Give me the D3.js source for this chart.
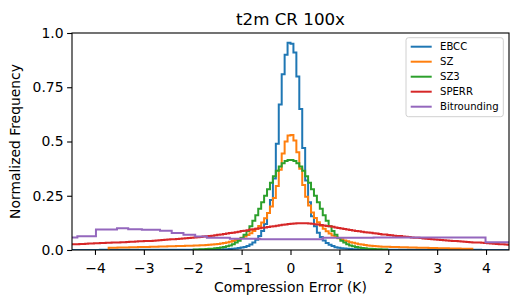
<!DOCTYPE html>
<html>
<head>
<meta charset="utf-8">
<script src="https://cdn.jsdelivr.net/npm/d3@7"></script>
<style>
  body { margin: 0; background: #fff; }
  svg { font-family: "DejaVu Sans", sans-serif; }
</style>
</head>
<body>
<div id="chart"></div>
<script>
// histogram bins, all uniform series use the same bin width
var binWidth = 0.06;

var ebccLo = -4.5;
var ebccVals = [
  .0005,.0005,.0005,.0005,.0005,.0005,.0005,.0005,.0005,.0005,
  .0006,.0006,.0006,.0006,.0006,.0006,.0006,.0006,.0006,.0006,
  .0008,.0008,.0008,.0008,.0008,.0008,.0008,.0008,.0008,.0008,.0008,
  .001,.001,.001,.001,.001,.001,.001,.001,.001,.001,.001,
  .001,.0011,.0012,.0013,.0014,.0016,.0018,.002,.0023,.0027,.0032,.0038,.0045,.0055,.007,.009,
  .011,.014,.019,.025,.034,.047,.064,.088,.12,.17,.23,.33,.49,.67,.81,.90,.955,
  .95,.91,.80,.65,.47,.32,.22,.155,.11,.08,.06,.044,.032,.024,.018,.013,.01,
  .0085,.0067,.0053,.0043,.0036,.003,.0026,.0022,.002,.0018,.0016,.0014,.0013,.0012,.0011,.001,
  .001,.001,.001,.001,.001,.001,.001,.001,.001,.001,.001,
  .0008,.0008,.0008,.0008,.0008,.0008,.0008,.0008,.0008,.0008,.0008,
  .0006,.0006,.0006,.0006,.0006,.0006,.0006,.0006,.0006,.0006,
  .0005,.0005,.0005,.0005,.0005,.0005,.0005,.0005,.0005,.0005
];

var szLo = -3.72;
var szVals = [
  .010,.0103,.0106,.011,.0113,.0116,.012,.0123,.0126,.013,.0133,.0136,.014,.0143,.0146,
  .015,.0154,.0158,.0162,.0166,.017,.0174,.0178,.0182,.0186,.019,.0194,.0198,.02,
  .0205,.021,.0215,.022,.023,.024,.025,.026,.028,.030,.032,.035,.038,.042,.046,.051,.056,
  .062,.069,.077,.087,.098,.111,.127,.146,.17,.20,.24,.295,.37,.445,.50,.528,
  .53,.505,.45,.375,.30,.245,.205,.173,.148,.128,.112,.098,.086,.076,.067,.06,.054,
  .049,.044,.04,.036,.033,.03,.027,.025,.023,.021,.0195,.018,.017,.016,.0155,.015,
  .0146,.0142,.0138,.0134,.013,.0126,.0122,.0118,.0114,.011,.0107,.0104,.0101,.0098,.0095,
  .0092,.0089,.0086,.0083,.008,.0077,.0074,.0071,.0068,.0065,.0062,.006,.0058,.0056
];

var sz3Lo = -1.98;
var sz3Vals = [
  .0022,.0026,.0031,.0037,.0044,.0052,.0062,.0075,.009,.011,.0135,.017,.021,.027,.034,.043,.055,
  .07,.088,.11,.135,.16,.19,.22,.25,.28,.31,.34,.365,.385,.40,.41,.415,
  .415,.41,.40,.385,.365,.34,.31,.28,.25,.22,.19,.16,.135,.11,.088,.07,.055,
  .043,.034,.027,.021,.017,.0135,.011,.009,.0075,.0062,.0052,.0044,.0037,.0031,.0026,.0022
];

var sperrLo = -4.5;
var sperrVals = [
  .026,.027,.027,.028,.028,.029,.030,.030,
  .031,.031,.032,.032,.033,.033,.034,.035,.035,
  .036,.036,.037,.038,.038,.039,.040,.040,
  .041,.042,.042,.043,.044,.045,.046,.047,.048,
  .049,.050,.051,.052,.053,.054,.055,.056,
  .058,.059,.060,.062,.063,.065,.066,.068,
  .070,.072,.074,.076,.078,.080,.082,.084,.087,
  .089,.091,.094,.096,.098,.100,.102,.104,
  .106,.108,.110,.112,.114,.116,.118,.120,
  .121,.122,.123,.123,.123,.123,.122,.121,
  .119,.117,.115,.113,.111,.109,.107,.104,.101,
  .099,.097,.094,.092,.090,.088,.086,.084,
  .082,.081,.079,.077,.076,.074,.072,.071,.069,
  .068,.066,.065,.064,.062,.061,.060,.058,
  .057,.056,.055,.053,.052,.051,.050,.048,
  .047,.046,.045,.044,.043,.042,.041,.040,.039,
  .038,.037,.036,.035,.035,.034,.033,.032,
  .031,.030,.029,.028,.027,.026,.025,.024
];

// bitrounding has uneven bins
var bitEdges = [-4.5, -4.36, -3.98, -3.55, -3.32, -3.04, -2.67, -2.43, -2.19, -1.95, -1.71, -1.24, -0.62, 0.66, 1.7, 3.99, 4.5];
var bitVals = [0.058, 0.063, 0.095, 0.100, 0.096, 0.093, 0.089, 0.078, 0.070, 0.062, 0.057, 0.052, 0.050, 0.056, 0.058, 0.036];

var names = ["EBCC", "SZ", "SZ3", "SPERR", "Bitrounding"];
var colors = ["#1f77b4", "#ff7f0e", "#2ca02c", "#d62728", "#9467bd"];

var xTicks = [-4, -3, -2, -1, 0, 1, 2, 3, 4];
var yTicks = [0, 0.25, 0.5, 0.75, 1.0];
var yTickLabels = ["0.0", "0.25", "0.5", "0.75", "1.0"];

function uniformEdges(lo, n) {
  var e = [];
  for (var i = 0; i <= n; i++) e.push(lo + i * binWidth);
  return e;
}

var series = [
  {edges: uniformEdges(ebccLo, ebccVals.length), vals: ebccVals},
  {edges: uniformEdges(szLo, szVals.length), vals: szVals},
  {edges: uniformEdges(sz3Lo, sz3Vals.length), vals: sz3Vals},
  {edges: uniformEdges(sperrLo, sperrVals.length), vals: sperrVals},
  {edges: bitEdges, vals: bitVals}
];

var W = 519, H = 306;
var margin = {top: 33, right: 10, bottom: 56, left: 72};

var svg = d3.select("#chart").append("svg")
  .attr("width", W)
  .attr("height", H);

var x = d3.scaleLinear().domain([-4.47, 4.47]).range([margin.left, W - margin.right]);
var y = d3.scaleLinear().domain([0, 1]).range([H - margin.bottom, margin.top]);

svg.append("defs").append("clipPath").attr("id", "plotclip")
  .append("rect")
  .attr("x", margin.left).attr("y", margin.top)
  .attr("width", x.range()[1] - x.range()[0])
  .attr("height", y.range()[0] - y.range()[1]);

// step outline like histtype='step'
function stepPoints(s) {
  var pts = [[s.edges[0], 0]];
  s.vals.forEach(function(v, i) {
    pts.push([s.edges[i], v]);
    pts.push([s.edges[i + 1], v]);
  });
  pts.push([s.edges[s.edges.length - 1], 0]);
  return pts;
}

var line = d3.line()
  .x(function(d) { return x(d[0]); })
  .y(function(d) { return y(d[1]); });

var plot = svg.append("g").attr("clip-path", "url(#plotclip)");
plot.selectAll(".hist")
  .data(series)
  .enter()
  .append("path")
  .attr("class", "hist")
  .attr("d", function(d) { return line(stepPoints(d)); })
  .attr("fill", "none")
  .attr("stroke", function(d, i) { return colors[i]; })
  .attr("stroke-width", 2)
  .attr("stroke-linejoin", "miter");

// axes
var xAxis = svg.append("g")
  .attr("transform", "translate(0," + y(0) + ")")
  .call(d3.axisBottom(x).tickValues(xTicks).tickSize(4.9).tickPadding(8).tickSizeOuter(0));
var yAxis = svg.append("g")
  .attr("transform", "translate(" + x.range()[0] + ",0)")
  .call(d3.axisLeft(y).tickValues(yTicks).tickSize(4.9).tickPadding(3.6).tickSizeOuter(0)
    .tickFormat(function(d, i) { return yTickLabels[i]; }));

[xAxis, yAxis].forEach(function(g) {
  g.select(".domain").remove();
  g.selectAll("text").attr("font-size", 13.9).attr("fill", "#000").attr("font-family", "DejaVu Sans");
  g.selectAll("line").attr("stroke", "#000").attr("stroke-width", 1.1);
});

// frame
svg.append("rect")
  .attr("x", x.range()[0]).attr("y", y.range()[1])
  .attr("width", x.range()[1] - x.range()[0])
  .attr("height", y.range()[0] - y.range()[1])
  .attr("fill", "none")
  .attr("stroke", "#000")
  .attr("stroke-width", 1.1);

svg.append("text")
  .attr("x", (x.range()[0] + x.range()[1]) / 2)
  .attr("y", 25)
  .attr("text-anchor", "middle")
  .attr("font-size", 16.7)
  .text("t2m CR 100x");

svg.append("text")
  .attr("x", (x.range()[0] + x.range()[1]) / 2)
  .attr("y", 291.5)
  .attr("text-anchor", "middle")
  .attr("font-size", 13.9)
  .text("Compression Error (K)");

svg.append("text")
  .attr("transform", "translate(20," + (y.range()[0] + y.range()[1]) / 2 + ") rotate(-90)")
  .attr("text-anchor", "middle")
  .attr("font-size", 13.9)
  .text("Normalized Frequency");

// legend
var legend = svg.append("g");
legend.append("rect")
  .attr("x", 406).attr("y", 37.7)
  .attr("width", 97.3).attr("height", 79)
  .attr("rx", 2.5)
  .attr("fill", "#fff").attr("fill-opacity", 0.8)
  .attr("stroke", "#d0d0d0").attr("stroke-width", 1);

legend.selectAll(".legend-line")
  .data(names)
  .enter()
  .append("line")
  .attr("class", "legend-line")
  .attr("x1", 410.7).attr("x2", 431.7)
  .attr("y1", function(d, i) { return 46.7 + i * 15; })
  .attr("y2", function(d, i) { return 46.7 + i * 15; })
  .attr("stroke", function(d, i) { return colors[i]; })
  .attr("stroke-width", 2);

legend.selectAll(".legend-text")
  .data(names)
  .enter()
  .append("text")
  .attr("class", "legend-text")
  .attr("x", 440)
  .attr("y", function(d, i) { return 46.7 + i * 15; })
  .attr("dy", "0.36em")
  .attr("font-size", 10.1)
  .text(function(d) { return d; });
</script>
</body>
</html>
